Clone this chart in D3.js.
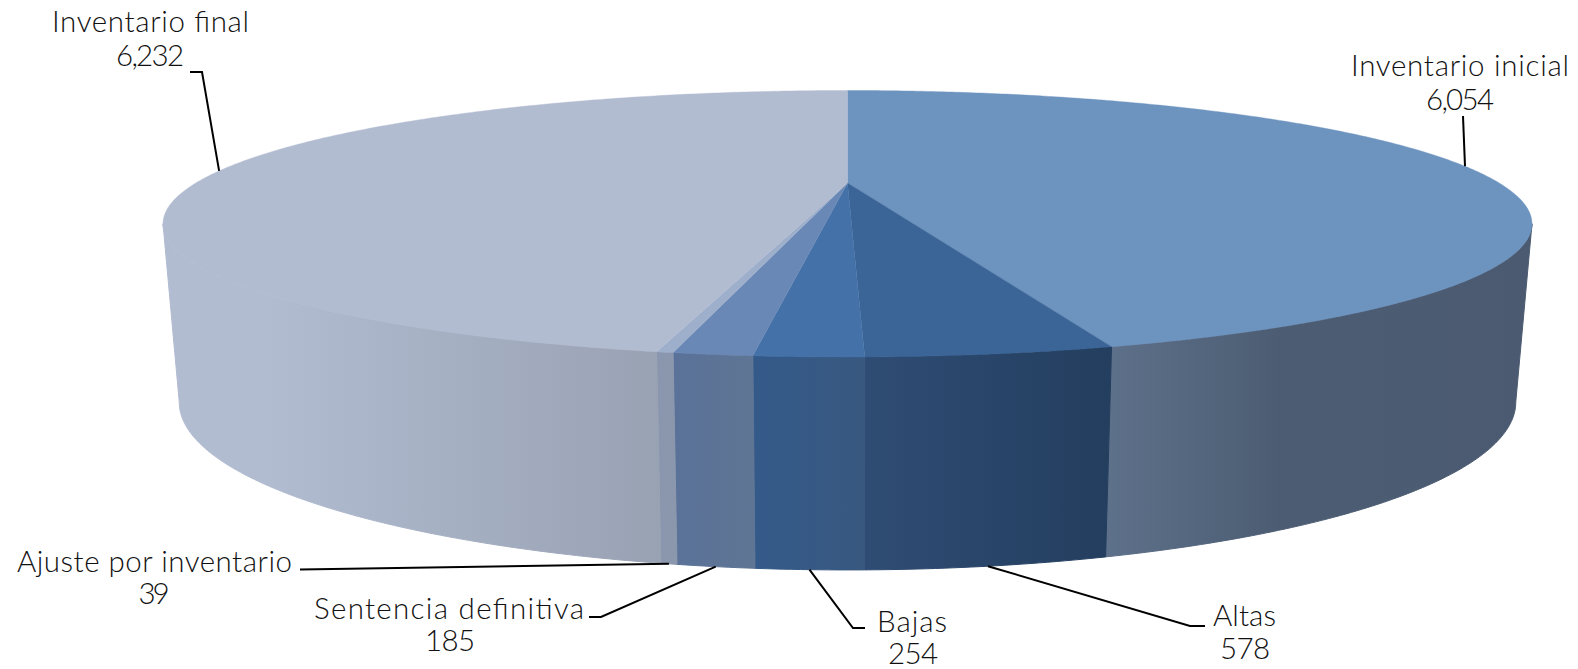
<!DOCTYPE html>
<html>
<head>
<meta charset="utf-8">
<style>
body { margin: 0; background: #fff; }
text { font-family: "Lato", "Liberation Sans", sans-serif; font-weight: 300; font-size: 29.5px; fill: #111; }
</style>
<script src="https://cdn.jsdelivr.net/npm/d3@7"></script>
</head>
<body>
<div id="chart"></div>
<script>
// values
var categories = ["Inventario inicial", "Altas", "Bajas", "Sentencia definitiva", "Ajuste por inventario", "Inventario final"];
var values = [6054, 578, 254, 185, 39, 6232];
var valueLabels = ["6,054", "578", "254", "185", "39", "6,232"];

// colours per slice: top face, wall gradient stops
var topColors = ["#6d93bf", "#3b6497", "#4471a8", "#6a88b5", "#9eafcc", "#b2bcd1"];
var wallStops = [
    [[0, "#5e718a"], [0.4, "#4c5d73"], [1, "#4b5a70"]],
    [[0, "#2f4c74"], [1, "#233e5e"]],
    [[0, "#345a8a"], [1, "#38587f"]],
    [[0, "#5a7299"], [1, "#5f7594"]],
    [[0, "#8996ae"], [1, "#8a97ac"]],
    [[0, "#b2bcd1"], [0.2, "#b2bcd1"], [1, "#98a2b3"]]
];

// label layout: text box x, baselines, widths and the elbow of the leader
var labelCenter = [1460, 1245, 913, 450, 154, 150];
var labelNameX = [1351, 1213, 877, 314, 17, 52];
var labelNameW = [218, 63, 70, 270, 275, 197];
var labelValueW = [68, 50, 50, 50, 31, 68];
var labelBase = [76, 626, 632, 619, 572, 32];
var lineGap = [34, 33, 32, 32, 32, 34];
var leaderElbow = [
    [[1463, 116]],
    [[1205, 626], [1190, 626]],
    [[865, 628], [853, 628]],
    [[589, 617], [601, 617]],
    [[300, 569.5]],
    [[190, 72], [202, 72]]
];

var width = 1578, height = 669;

// perspective of the two rims of the disc
var topRim = {cx: 847.5, cy: 183, a: 651.7, b: 120.8, k: 0.3058};
var bottomRim = {cx: 847.5, cy: 350.6, a: 636, b: 152, k: 0.307};

// angle measured clockwise from the top of the disc, radius 0-1
function project(rim, angle, r) {
    var X = r * Math.sin(angle), Y = -r * Math.cos(angle);
    var w = 1 - rim.k * Y;
    return [rim.cx + rim.a * X / w, rim.cy + rim.b * Y / w];
}

function rimPoints(rim, a0, a1) {
    var n = Math.max(2, Math.ceil((a1 - a0) / 0.01));
    return d3.range(n + 1).map(function(i) {
        return project(rim, a0 + (a1 - a0) * i / n, 1);
    });
}

var svg = d3.select("#chart")
    .append("svg")
    .attr("width", width)
    .attr("height", height);

var defs = svg.append("defs");
var line = d3.line();

var arcs = d3.pie().sort(null).startAngle(0).endAngle(2 * Math.PI)(values);

// the wall is only visible between the two side tangents of the disc
var sideAngle = Math.PI / 2 + Math.asin(topRim.k);

arcs.forEach(function(d, i) {
    var a0 = Math.max(d.startAngle, sideAngle);
    var a1 = Math.min(d.endAngle, 2 * Math.PI - sideAngle);
    var upper = rimPoints(topRim, a0, a1);
    var lower = rimPoints(bottomRim, a0, a1);
    var xs = upper.concat(lower).map(function(p) { return p[0]; });

    var grad = defs.append("linearGradient")
        .attr("id", "wall" + i)
        .attr("gradientUnits", "userSpaceOnUse")
        .attr("x1", d3.min(xs)).attr("x2", d3.max(xs))
        .attr("y1", 0).attr("y2", 0);
    wallStops[i].forEach(function(s) {
        grad.append("stop").attr("offset", s[0]).attr("stop-color", s[1]);
    });

    // stroke closes the hairline between the wall and the top face
    svg.append("path")
        .attr("d", line(upper.concat(lower.reverse())) + "Z")
        .attr("fill", "url(#wall" + i + ")")
        .attr("stroke", "url(#wall" + i + ")")
        .attr("stroke-width", 1);
});

// top faces
arcs.forEach(function(d, i) {
    var pts = [project(topRim, 0, 0)].concat(rimPoints(topRim, d.startAngle, d.endAngle));
    svg.append("path")
        .attr("d", line(pts) + "Z")
        .attr("fill", topColors[i])
        .attr("stroke", topColors[i])
        .attr("stroke-width", 0.4);
});

// leaders run from the middle of each slice's rim to the elbow
arcs.forEach(function(d, i) {
    var mid = (d.startAngle + d.endAngle) / 2;
    // slices at the back or side touch the top rim, the front ones the bottom rim
    var rim = (i == 0 || i == 5) ? topRim : bottomRim;
    var pts = leaderElbow[i].concat([project(rim, mid, 1)]);
    svg.append("path")
        .attr("d", line(pts))
        .attr("fill", "none")
        .attr("stroke", "#000")
        .attr("stroke-width", 2);
});

// labels, name on the first line and value below
categories.forEach(function(name, i) {
    svg.append("text")
        .attr("x", labelNameX[i])
        .attr("y", labelBase[i])
        .attr("textLength", labelNameW[i])
        .attr("lengthAdjust", "spacing")
        .text(name);
    svg.append("text")
        .attr("x", labelCenter[i] - labelValueW[i] / 2)
        .attr("y", labelBase[i] + lineGap[i])
        .attr("textLength", labelValueW[i])
        .attr("lengthAdjust", "spacing")
        .text(valueLabels[i]);
});
</script>
</body>
</html>
